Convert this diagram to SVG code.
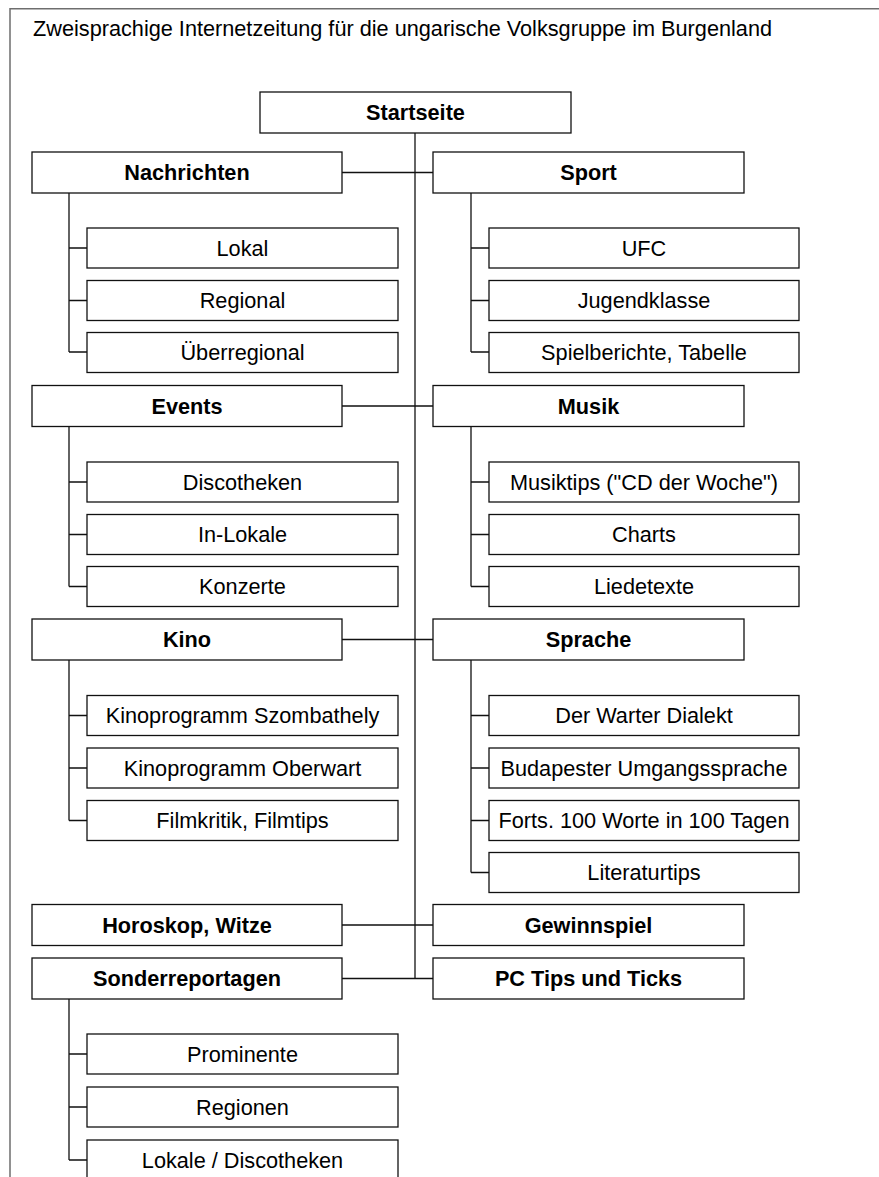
<svg xmlns="http://www.w3.org/2000/svg" width="879" height="1177" viewBox="0 0 879 1177">
<style>
.frame{fill:none;stroke:#6e6e6e;stroke-width:1.5}
.box{fill:#fff;stroke:#111;stroke-width:1.3}
.ln{fill:none;stroke:#111;stroke-width:1.3}
text{font-family:"Liberation Sans",Arial,sans-serif;font-size:21.7px;fill:#000}
.h{font-weight:bold;text-anchor:middle}
.c{text-anchor:middle}
</style>
<rect width="879" height="1177" fill="#fff"/>
<path class="frame" d="M10,1177 V8.75 H879"/>
<text x="33" y="36">Zweisprachige Internetzeitung für die ungarische Volksgruppe im Burgenland</text>
<g id="connectors">
<path class="ln" d="M415,133 V978.5"/>
<path class="ln" d="M342,172.5 H433 M342,406 H433 M342,639.5 H433 M342,925 H433 M342,978.5 H433"/>
<path class="ln" d="M69,193 V352 M69,248 H87 M69,300.5 H87 M69,352 H87"/>
<path class="ln" d="M471,193 V352 M471,248 H489 M471,300.5 H489 M471,352 H489"/>
<path class="ln" d="M69,426 V586.5 M69,482 H87 M69,534.5 H87 M69,586.5 H87"/>
<path class="ln" d="M471,426 V586.5 M471,482 H489 M471,534.5 H489 M471,586.5 H489"/>
<path class="ln" d="M69,660 V820.5 M69,715.5 H87 M69,768 H87 M69,820.5 H87"/>
<path class="ln" d="M471,660 V872.5 M471,715.5 H489 M471,768 H489 M471,820.5 H489 M471,872.5 H489"/>
<path class="ln" d="M69,999 V1160 M69,1054 H87 M69,1107 H87 M69,1160 H87"/>
</g>
<g id="startseite"><rect class="box" x="260" y="92" width="311" height="41"/><text class="h" x="415.5" y="120">Startseite</text></g>
<g id="nachrichten"><rect class="box" x="32" y="152" width="310" height="41"/><text class="h" x="187" y="180">Nachrichten</text></g>
<g id="lokal"><rect class="box" x="87" y="228" width="311" height="40"/><text class="c" x="242.5" y="255.5">Lokal</text></g>
<g id="regional"><rect class="box" x="87" y="280.5" width="311" height="40"/><text class="c" x="242.5" y="308">Regional</text></g>
<g id="ueberregional"><rect class="box" x="87" y="332.5" width="311" height="40"/><text class="c" x="242.5" y="360">Überregional</text></g>
<g id="sport"><rect class="box" x="433" y="152" width="311" height="41"/><text class="h" x="588.5" y="180">Sport</text></g>
<g id="ufc"><rect class="box" x="489" y="228" width="310" height="40"/><text class="c" x="644" y="255.5">UFC</text></g>
<g id="jugendklasse"><rect class="box" x="489" y="280.5" width="310" height="40"/><text class="c" x="644" y="308">Jugendklasse</text></g>
<g id="spielberichte"><rect class="box" x="489" y="332.5" width="310" height="40"/><text class="c" x="644" y="360">Spielberichte, Tabelle</text></g>
<g id="events"><rect class="box" x="32" y="385.5" width="310" height="41"/><text class="h" x="187" y="413.5">Events</text></g>
<g id="discotheken"><rect class="box" x="87" y="462" width="311" height="40"/><text class="c" x="242.5" y="489.5">Discotheken</text></g>
<g id="inlokale"><rect class="box" x="87" y="514.5" width="311" height="40"/><text class="c" x="242.5" y="542">In-Lokale</text></g>
<g id="konzerte"><rect class="box" x="87" y="566.5" width="311" height="40"/><text class="c" x="242.5" y="594">Konzerte</text></g>
<g id="musik"><rect class="box" x="433" y="385.5" width="311" height="41"/><text class="h" x="588.5" y="413.5">Musik</text></g>
<g id="musiktips"><rect class="box" x="489" y="462" width="310" height="40"/><text class="c" x="644" y="489.5">Musiktips ("CD der Woche")</text></g>
<g id="charts"><rect class="box" x="489" y="514.5" width="310" height="40"/><text class="c" x="644" y="542">Charts</text></g>
<g id="liedetexte"><rect class="box" x="489" y="566.5" width="310" height="40"/><text class="c" x="644" y="594">Liedetexte</text></g>
<g id="kino"><rect class="box" x="32" y="619" width="310" height="41"/><text class="h" x="187" y="647">Kino</text></g>
<g id="szombathely"><rect class="box" x="87" y="695.5" width="311" height="40"/><text class="c" x="242.5" y="723">Kinoprogramm Szombathely</text></g>
<g id="oberwart"><rect class="box" x="87" y="748" width="311" height="40"/><text class="c" x="242.5" y="775.5">Kinoprogramm Oberwart</text></g>
<g id="filmkritik"><rect class="box" x="87" y="800.5" width="311" height="40"/><text class="c" x="242.5" y="828">Filmkritik, Filmtips</text></g>
<g id="sprache"><rect class="box" x="433" y="619" width="311" height="41"/><text class="h" x="588.5" y="647">Sprache</text></g>
<g id="warter"><rect class="box" x="489" y="695.5" width="310" height="40"/><text class="c" x="644" y="723">Der Warter Dialekt</text></g>
<g id="budapester"><rect class="box" x="489" y="748" width="310" height="40"/><text class="c" x="644" y="775.5">Budapester Umgangssprache</text></g>
<g id="forts"><rect class="box" x="489" y="800.5" width="310" height="40"/><text class="c" x="644" y="828">Forts. 100 Worte in 100 Tagen</text></g>
<g id="literaturtips"><rect class="box" x="489" y="852.5" width="310" height="40"/><text class="c" x="644" y="880">Literaturtips</text></g>
<g id="horoskop"><rect class="box" x="32" y="904.5" width="310" height="41"/><text class="h" x="187" y="932.5">Horoskop, Witze</text></g>
<g id="gewinnspiel"><rect class="box" x="433" y="904.5" width="311" height="41"/><text class="h" x="588.5" y="932.5">Gewinnspiel</text></g>
<g id="sonderreportagen"><rect class="box" x="32" y="958" width="310" height="41"/><text class="h" x="187" y="986">Sonderreportagen</text></g>
<g id="pctips"><rect class="box" x="433" y="958" width="311" height="41"/><text class="h" x="588.5" y="986">PC Tips und Ticks</text></g>
<g id="prominente"><rect class="box" x="87" y="1034" width="311" height="40"/><text class="c" x="242.5" y="1061.5">Prominente</text></g>
<g id="regionen"><rect class="box" x="87" y="1087" width="311" height="40"/><text class="c" x="242.5" y="1114.5">Regionen</text></g>
<g id="lokale-discotheken"><rect class="box" x="87" y="1140" width="311" height="40"/><text class="c" x="242.5" y="1167.5">Lokale / Discotheken</text></g>
</svg>
